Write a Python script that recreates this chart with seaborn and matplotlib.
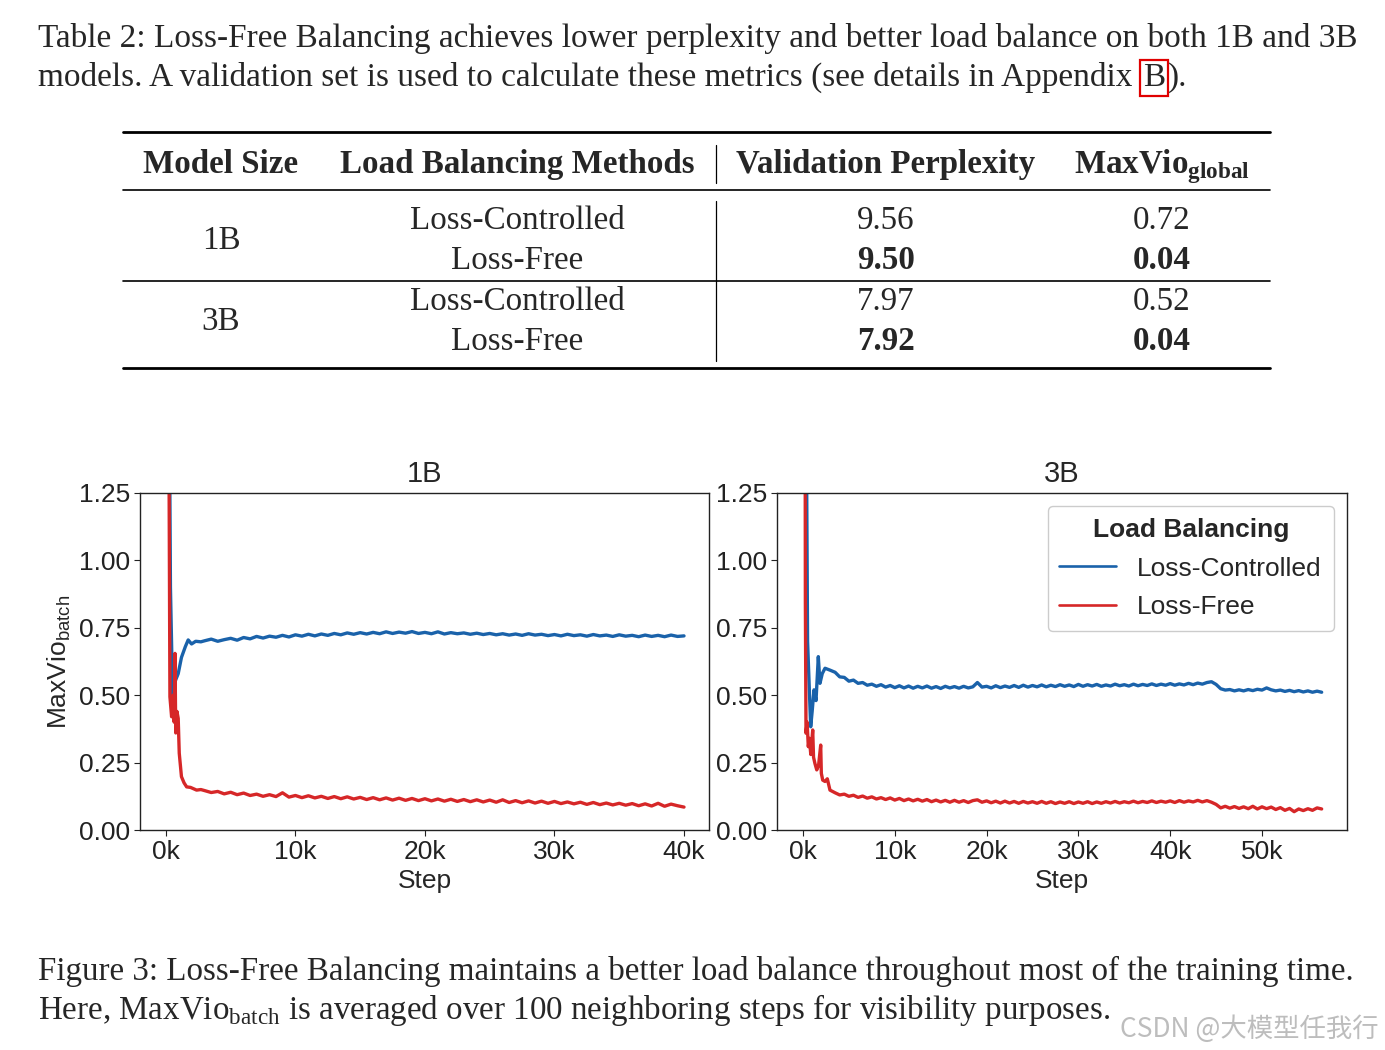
import matplotlib
matplotlib.use("Agg")
import numpy as np
import pandas as pd
import seaborn as sns
import matplotlib.pyplot as plt
from matplotlib.lines import Line2D

# ---------------- data ----------------
methods = ["Loss-Controlled", "Loss-Free"]
model_sizes = ["1B", "3B"]

table_ppl = ["9.56", "9.50", "7.97", "7.92"]
table_maxvio = ["0.72", "0.04", "0.52", "0.04"]
table_bold = [False, True, False, True]

# 1B, Loss-Controlled: early transient points, then every 500 steps from 3000
b1_lc_early_steps = [150, 350, 520, 700, 950, 1200, 1500, 1720, 1980, 2300, 2700]
b1_lc_early_vals = [2.5, 0.90, 0.494, 0.55, 0.58, 0.64, 0.68, 0.705, 0.69, 0.70, 0.698]
b1_lc_vals = [0.702, 0.708, 0.700, 0.706, 0.711, 0.704, 0.714, 0.709, 0.718, 0.712,
              0.719, 0.715, 0.722, 0.716, 0.724, 0.719, 0.726, 0.720, 0.727, 0.722,
              0.729, 0.724, 0.731, 0.726, 0.732, 0.727, 0.733, 0.728, 0.735, 0.729,
              0.734, 0.730, 0.736, 0.729, 0.733, 0.728, 0.735, 0.727, 0.732, 0.728,
              0.731, 0.726, 0.730, 0.725, 0.729, 0.724, 0.728, 0.723, 0.727, 0.722,
              0.728, 0.723, 0.726, 0.721, 0.725, 0.720, 0.726, 0.721, 0.724, 0.719,
              0.725, 0.720, 0.723, 0.718, 0.724, 0.719, 0.722, 0.717, 0.723, 0.718,
              0.722, 0.717, 0.723, 0.718, 0.720]

# 1B, Loss-Free
b1_lf_early_steps = [150, 310, 440, 560, 640, 700, 760, 850, 950, 1030, 1200, 1400, 1600, 1900, 2370, 2700]
b1_lf_early_vals = [2.5, 0.494, 0.42, 0.50, 0.40, 0.655, 0.36, 0.44, 0.414, 0.285, 0.198, 0.175, 0.16, 0.158, 0.148, 0.150]
b1_lf_vals = [0.146, 0.139, 0.143, 0.134, 0.140, 0.131, 0.137, 0.128, 0.133, 0.125,
              0.131, 0.124, 0.138, 0.122, 0.128, 0.120, 0.127, 0.119, 0.125, 0.117,
              0.124, 0.116, 0.123, 0.115, 0.121, 0.113, 0.120, 0.112, 0.119, 0.111,
              0.118, 0.110, 0.117, 0.109, 0.116, 0.108, 0.115, 0.107, 0.114, 0.106,
              0.113, 0.105, 0.112, 0.104, 0.111, 0.103, 0.112, 0.102, 0.109, 0.101,
              0.108, 0.100, 0.107, 0.099, 0.106, 0.098, 0.104, 0.097, 0.103, 0.095,
              0.102, 0.094, 0.100, 0.093, 0.099, 0.092, 0.098, 0.090, 0.097, 0.089,
              0.099, 0.088, 0.096, 0.090, 0.085]

# 3B, Loss-Controlled: early points, then every 500 steps from 3500
b3_lc_early_steps = [200, 500, 840, 1000, 1200, 1420, 1670, 1850, 2100, 2400, 2940]
b3_lc_early_vals = [2.5, 0.70, 0.383, 0.44, 0.52, 0.48, 0.643, 0.544, 0.58, 0.60, 0.593]
b3_lc_vals = [0.585, 0.568, 0.566, 0.552, 0.556, 0.544, 0.547, 0.537, 0.541, 0.533,
              0.539, 0.530, 0.536, 0.528, 0.535, 0.527, 0.534, 0.526, 0.533, 0.527,
              0.534, 0.526, 0.532, 0.525, 0.533, 0.527, 0.532, 0.526, 0.533, 0.527,
              0.531, 0.547, 0.530, 0.533, 0.527, 0.535, 0.528, 0.534, 0.529, 0.536,
              0.529, 0.537, 0.530, 0.536, 0.531, 0.538, 0.531, 0.537, 0.532, 0.539,
              0.533, 0.538, 0.532, 0.540, 0.533, 0.539, 0.534, 0.540, 0.533, 0.538,
              0.534, 0.541, 0.535, 0.539, 0.534, 0.541, 0.535, 0.540, 0.536, 0.542,
              0.536, 0.541, 0.537, 0.543, 0.537, 0.542, 0.538, 0.544, 0.539, 0.545,
              0.541, 0.547, 0.550, 0.540, 0.524, 0.519, 0.521, 0.516, 0.520, 0.516,
              0.521, 0.517, 0.522, 0.519, 0.527, 0.520, 0.516, 0.519, 0.514, 0.518,
              0.513, 0.517, 0.512, 0.516, 0.511, 0.515, 0.511]

# 3B, Loss-Free
b3_lf_early_steps = [200, 260, 330, 450, 580, 700, 850, 1060, 1150, 1300, 1500, 1700, 1930, 2000, 2150, 2400, 2650, 2940]
b3_lf_early_vals = [2.5, 0.847, 0.359, 0.40, 0.309, 0.34, 0.28, 0.371, 0.27, 0.247, 0.223, 0.24, 0.315, 0.21, 0.185, 0.18, 0.19, 0.148]
b3_lf_vals = [0.138, 0.130, 0.133, 0.125, 0.129, 0.121, 0.126, 0.118, 0.123, 0.115,
              0.120, 0.113, 0.119, 0.111, 0.117, 0.109, 0.115, 0.108, 0.114, 0.107,
              0.113, 0.105, 0.111, 0.104, 0.110, 0.103, 0.110, 0.103, 0.109, 0.102,
              0.109, 0.112, 0.103, 0.108, 0.101, 0.107, 0.100, 0.107, 0.100, 0.106,
              0.099, 0.106, 0.100, 0.105, 0.099, 0.106, 0.099, 0.105, 0.098, 0.104,
              0.099, 0.105, 0.098, 0.104, 0.099, 0.105, 0.098, 0.104, 0.099, 0.105,
              0.100, 0.106, 0.100, 0.105, 0.101, 0.107, 0.101, 0.106, 0.102, 0.108,
              0.102, 0.107, 0.103, 0.108, 0.102, 0.109, 0.103, 0.108, 0.104, 0.110,
              0.104, 0.109, 0.103, 0.095, 0.082, 0.088, 0.081, 0.087, 0.080, 0.086,
              0.079, 0.088, 0.078, 0.086, 0.079, 0.085, 0.076, 0.083, 0.073, 0.080,
              0.068, 0.078, 0.072, 0.079, 0.073, 0.082, 0.078]

x_ticks_1b = [0, 10000, 20000, 30000, 40000]
x_ticklabels_1b = ["0k", "10k", "20k", "30k", "40k"]
x_ticks_3b = [0, 10000, 20000, 30000, 40000, 50000]
x_ticklabels_3b = ["0k", "10k", "20k", "30k", "40k", "50k"]
y_ticks = [0.0, 0.25, 0.5, 0.75, 1.0, 1.25]
y_ticklabels = ["0.00", "0.25", "0.50", "0.75", "1.00", "1.25"]

colors = {"Loss-Controlled": "#1a62aa", "Loss-Free": "#d62728"}


def build(model, method, early_steps, early_vals, start, vals):
    steps = list(early_steps) + [start + 500 * i for i in range(len(vals))]
    values = list(early_vals) + list(vals)
    return pd.DataFrame({"model": model, "method": method, "step": steps, "value": values})


df = pd.concat([
    build("1B", "Loss-Controlled", b1_lc_early_steps, b1_lc_early_vals, 3000, b1_lc_vals),
    build("1B", "Loss-Free", b1_lf_early_steps, b1_lf_early_vals, 3000, b1_lf_vals),
    build("3B", "Loss-Controlled", b3_lc_early_steps, b3_lc_early_vals, 3500, b3_lc_vals),
    build("3B", "Loss-Free", b3_lf_early_steps, b3_lf_early_vals, 3500, b3_lf_vals),
], ignore_index=True)

# ---------------- style ----------------
W, H = 1385, 1050
sns.set_theme(style="ticks")
plt.rcParams["font.family"] = ["Liberation Sans", "DejaVu Sans"]
plt.rcParams["mathtext.fontset"] = "custom"
plt.rcParams["mathtext.rm"] = "Liberation Serif"
plt.rcParams["mathtext.bf"] = "Liberation Serif:bold"
plt.rcParams["mathtext.sf"] = "Liberation Sans"
plt.rcParams["axes.edgecolor"] = "#222222"
plt.rcParams["axes.linewidth"] = 1.0
plt.rcParams["xtick.major.size"] = 4
plt.rcParams["ytick.major.size"] = 4
plt.rcParams["xtick.major.width"] = 0.8
plt.rcParams["ytick.major.width"] = 0.8
plt.rcParams["xtick.color"] = "#222222"
plt.rcParams["ytick.color"] = "#222222"

fig = plt.figure(figsize=(W / 100, H / 100), dpi=100)
fig.patch.set_facecolor("white")


def fx(x):
    return x / W


def fy(y):
    return 1 - y / H


SERIF = ["Liberation Serif", "DejaVu Serif"]
FS = 23.8
CFS = 23.95

# ---------------- table caption ----------------
fig.text(fx(38), fy(47), "Table 2: Loss-Free Balancing achieves lower perplexity and better load balance on both 1B and 3B",
         family=SERIF, fontsize=CFS, ha="left", va="baseline")
fig.text(fx(38), fy(86), "models. A validation set is used to calculate these metrics (see details in Appendix",
         family=SERIF, fontsize=CFS, ha="left", va="baseline")
fig.text(fx(1143), fy(86), "B", family=SERIF, fontsize=CFS, ha="left", va="baseline",
         bbox=dict(boxstyle="square,pad=0.08", facecolor="none", edgecolor="#e00000", linewidth=1.6))
fig.text(fx(1168), fy(86), ").", family=SERIF, fontsize=CFS, ha="left", va="baseline")

# ---------------- table ----------------
def hline(y, lw):
    fig.add_artist(Line2D([fx(123), fx(1270)], [fy(y), fy(y)], color="black", linewidth=lw))


def vline(x, y0, y1):
    fig.add_artist(Line2D([fx(x), fx(x)], [fy(y0), fy(y1)], color="black", linewidth=0.9))


hline(132, 2.0)
hline(190, 1.2)
hline(281, 1.2)
hline(368, 2.0)
vline(716, 145, 183)
vline(716, 201, 361)

col_x = [221, 517, 886, 1162]
hdr = ["Model Size", "Load Balancing Methods", "Validation Perplexity", r"MaxVio$_{\mathbf{global}}$"]
for cx, h in zip(col_x, hdr):
    fig.text(fx(cx), fy(173), h, family=SERIF, fontsize=FS, fontweight="bold", ha="center", va="baseline")

row_y = [229, 269, 310, 350]
fig.text(fx(col_x[0]), fy(249), model_sizes[0], family=SERIF, fontsize=FS, ha="center", va="baseline")
fig.text(fx(col_x[0]), fy(330), model_sizes[1], family=SERIF, fontsize=FS, ha="center", va="baseline")
for i, ry in enumerate(row_y):
    w = "bold" if table_bold[i] else "normal"
    fig.text(fx(col_x[1]), fy(ry), methods[i % 2], family=SERIF, fontsize=FS, ha="center", va="baseline")
    fig.text(fx(col_x[2]), fy(ry), table_ppl[i], family=SERIF, fontsize=FS, fontweight=w, ha="center", va="baseline")
    fig.text(fx(col_x[3]), fy(ry), table_maxvio[i], family=SERIF, fontsize=FS, fontweight=w, ha="center", va="baseline")

# ---------------- plots ----------------
ax1 = fig.add_axes([fx(140), fy(830), (709 - 140) / W, 337 / H])
ax2 = fig.add_axes([fx(777), fy(830), (1347 - 777) / W, 337 / H])

for ax, model, xt, xtl, xlim in [
    (ax1, "1B", x_ticks_1b, x_ticklabels_1b, (-2000, 41930)),
    (ax2, "3B", x_ticks_3b, x_ticklabels_3b, (-2830, 59260)),
]:
    sub = df[df["model"] == model]
    sns.lineplot(data=sub, x="step", y="value", hue="method", hue_order=methods,
                 palette=colors, ax=ax, linewidth=2.4, legend=False,
                 estimator=None, sort=False)
    ax.set_ylim(0, 1.25)
    ax.set_xlim(*xlim)
    ax.set_xticks(xt)
    ax.set_xticklabels(xtl)
    ax.set_yticks(y_ticks)
    ax.set_yticklabels(y_ticklabels)
    ax.tick_params(labelsize=19, pad=3)
    ax.set_title(model, fontsize=21, pad=8)
    ax.set_xlabel("Step", fontsize=19, labelpad=4)
    ax.set_ylabel("")
    for s in ax.spines.values():
        s.set_visible(True)

ax1.set_ylabel(r"MaxVio$_{\mathsf{batch}}$", fontsize=19, labelpad=4)

handles = [Line2D([0], [0], color=colors[m], linewidth=1.9) for m in methods]
leg = ax2.legend(handles, methods, title="Load Balancing", loc="upper right",
                 fontsize=19, title_fontproperties={"weight": "bold", "size": 19},
                 frameon=True, fancybox=True, edgecolor="#cccccc", framealpha=1,
                 borderpad=0.45, labelspacing=0.55, handlelength=2.15, handletextpad=0.8,
                 borderaxespad=0.5)

# ---------------- figure caption ----------------
fig.text(fx(38), fy(980), "Figure 3: Loss-Free Balancing maintains a better load balance throughout most of the training time.",
         family=SERIF, fontsize=FS, ha="left", va="baseline")
fig.text(fx(38), fy(1019), r"Here, MaxVio$_{\mathrm{batch}}$ is averaged over 100 neighboring steps for visibility purposes.",
         family=SERIF, fontsize=FS, ha="left", va="baseline")

fig.text(fx(1120), fy(1037), "CSDN @大模型任我行", family=["Noto Sans CJK SC", "DejaVu Sans"],
         fontsize=19, color="#bdbdbd", ha="left", va="baseline")

fig.savefig("out.png", dpi=100, facecolor="white")
